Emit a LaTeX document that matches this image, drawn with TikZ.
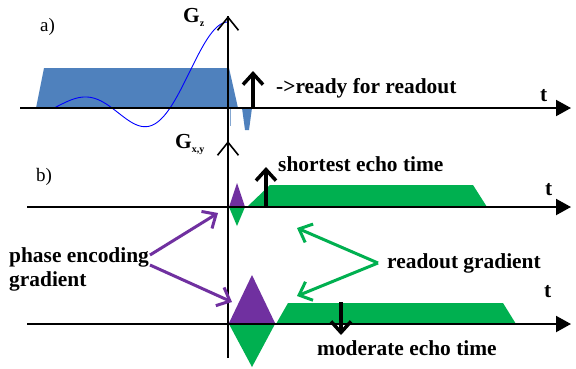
\documentclass[tikz,border=0pt]{standalone}
\usepackage{fontspec}
\setmainfont{Liberation Serif}
\usetikzlibrary{arrows.meta}
\definecolor{gblue}{HTML}{4F81BD}
\definecolor{gpurple}{HTML}{7030A0}
\definecolor{ggreen}{HTML}{00B050}
\begin{document}
\begin{tikzpicture}[x=1pt,y=-1pt,
  axis/.style={line width=2pt,-{Triangle[length=15pt,width=16pt]}},
  vaxis/.style={line width=2pt},
  vbarb/.style={line width=1.6pt,-{Straight Barb[length=13pt,width=21pt]}},
  echoarrow/.style={line width=3.5pt,-{Straight Barb[length=11pt,width=20pt]}},
  ptr/.style={line width=3pt,-{Straight Barb[length=11pt,width=20pt]}},
  lbl/.style={font=\fontsize{21.4}{24.5}\selectfont\bfseries,inner sep=0pt,anchor=base west},
  plain/.style={font=\fontsize{19}{22}\selectfont,inner sep=0pt,anchor=base west}]
\useasboundingbox (0,0) rectangle (576,368);
\fill[white] (0,0) rectangle (576,368);
% ---- a) slice-selection gradient
\fill[gblue] (36,108) -- (44,68) -- (229,68) -- (238,108) -- cycle;
\fill[gblue] (242,108) -- (252,108) -- (249,130) -- (245,130) -- cycle;
\draw[gblue!70,line width=1pt] (230,108) -- (230,126);
\draw[blue,line width=0.9pt] plot[domain=0.001:3,samples=150,variable=\u]
  ({228-58*\u},{108-86*sin(180*\u)/(3.14159*\u)});
% ---- b) shapes
\fill[gpurple] (229,207) -- (237,183) -- (245,207) -- cycle;
\fill[ggreen] (229,207) -- (237,226) -- (245,207) -- cycle;
\fill[ggreen] (247,207) -- (270,185) -- (473,185) -- (487,207) -- cycle;
\fill[gpurple] (229,323) -- (252,275) -- (275,323) -- cycle;
\draw[gray!45,line width=1pt] (229,323) -- (275,323);
\fill[ggreen] (229,324) -- (252,367) -- (275,324) -- cycle;
\fill[ggreen] (276,324) -- (288,303) -- (503,303) -- (516,324) -- cycle;
% ---- axes
\coordinate (ta0) at (20,108);  \coordinate (ta1) at (571,108);
\coordinate (tb0) at (27,207);  \coordinate (tb1) at (571,207);
\coordinate (tc0) at (27,324);  \coordinate (tc1) at (571,324);
\coordinate (v0) at (228,358);  \coordinate (v1) at (228,16);
\coordinate (vm0) at (228,160); \coordinate (vm1) at (228,141);
\draw[axis] (ta0) -- (ta1);
\draw[axis] (tb0) -- (tb1);
\draw[axis] (tc0) -- (tc1);
\draw[vaxis] (v0) -- (v1);
\draw[vbarb] (vm0) -- (vm1);
\draw[vbarb] (228,30) -- (v1);
% ---- echo arrows
\coordinate (r0) at (253,108); \coordinate (r1) at (253,71);
\coordinate (s0) at (266,207); \coordinate (s1) at (266,167);
\coordinate (m0) at (341,302); \coordinate (m1) at (341,335);
\draw[echoarrow] (r0) -- (r1);
\draw[echoarrow] (s0) -- (s1);
\draw[echoarrow] (m0) -- (m1);
% ---- labels
\node[plain] (la) at (40,31) {a)};
\node[plain] (lb) at (36,181) {b)};
\node[lbl] (gz) at (183,22) {G\raisebox{-0.2em}{\fontsize{10}{10}\selectfont z}};
\node[lbl] (gxy) at (175,148) {G\raisebox{-0.2em}{\fontsize{10}{10}\selectfont x,y}};
\node[lbl] (ready) at (276,93) {->ready for readout};
\node[lbl] (short) at (278,171) {shortest echo time};
\node[lbl] (moder) at (317,355) {moderate echo time};
\node[lbl] (ta) at (540,101) {t};
\node[lbl] (tb) at (545,195) {t};
\node[lbl] (tc) at (544,297) {t};
\node[lbl] (read) at (387,268) {readout gradient};
\node[lbl,align=left,anchor=north west] (phase) at (9,247) {phase encoding\\gradient};
% ---- pointers
\coordinate (pg1) at (150,255); \coordinate (pg2) at (150,265);
\coordinate (pe1) at (218,213); \coordinate (pe2) at (232,302);
\coordinate (rg) at (378,263);
\coordinate (re1) at (297,228); \coordinate (re2) at (297,296);
\draw[ptr,gpurple] (pg1) -- (pe1);
\draw[ptr,gpurple] (pg2) -- (pe2);
\draw[ptr,ggreen] (rg) -- (re1);
\draw[ptr,ggreen] (rg) -- (re2);
\end{tikzpicture}
\end{document}
